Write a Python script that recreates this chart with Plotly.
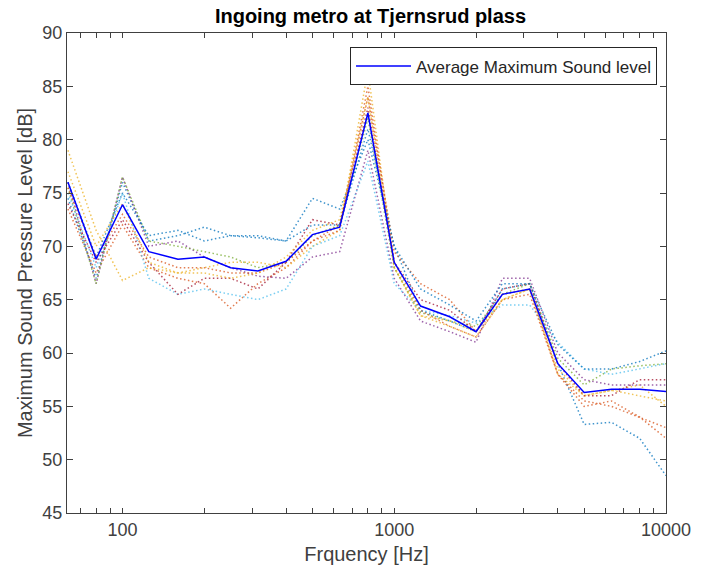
import plotly.graph_objects as go
import math

freqs = [63, 80, 100, 125, 160, 200, 250, 315, 400, 500, 630, 800, 1000,
         1250, 1600, 2000, 2500, 3150, 4000, 5000, 6300, 8000, 10000]

meas1 = [74.5, 67, 76, 70.5, 71, 71.8, 71, 71, 70.5, 74.5, 73.5, 80, 70, 64, 63, 62, 66, 66.5, 59, 53.3, 53.5, 52, 48.5]
meas2 = [73.5, 67.5, 72, 68, 67, 66.5, 64.2, 66.5, 68, 70.5, 72, 84, 69.5, 66.5, 65, 62, 65.5, 66, 58, 55.5, 55, 54, 53]
meas3 = [79, 71.5, 66.8, 68, 67.5, 68, 68.5, 68.5, 68, 70, 71.5, 86.5, 68, 63.5, 62.5, 61.5, 65, 66, 58.5, 56, 56.5, 57, 55]
meas4 = [76, 66.5, 76.5, 70, 70.5, 69, 68, 67.2, 67, 69, 69.5, 79, 67, 63, 62, 61, 67, 67, 60, 57.5, 57, 57, 57]
meas5 = [75.5, 66.5, 76.5, 70.5, 70, 69.5, 69, 68, 68.5, 71, 72, 82, 68, 63.8, 63, 62.5, 65.5, 66.5, 59.5, 57, 58.5, 58.8, 59]
meas6 = [75, 68, 75, 67, 65.5, 66, 65.5, 65, 66, 70, 71, 78, 66.5, 64, 63.5, 62.8, 64.5, 64.5, 61, 58.5, 58, 58.5, 59]
meas7 = [74, 68.5, 72.5, 68.5, 65.5, 67, 67, 66, 68.5, 72.5, 72, 83, 68.5, 65, 64, 62, 66, 66.5, 59, 56, 56, 57.5, 57.5]
meas8 = [76, 69, 75, 71, 71.5, 70.5, 71, 70.8, 70.5, 72, 72, 81, 70, 66, 64.5, 63, 66.5, 66.5, 60.8, 58.5, 58.5, 59.2, 60.2]
meas9 = [75.5, 69, 73, 69, 68, 68, 67.5, 67.5, 68.5, 70.5, 71.5, 85, 68.5, 64, 62.5, 61.5, 65, 65.5, 58, 55, 55.5, 54, 52]
meas10 = [77, 70, 74, 68.5, 67.5, 67.5, 67, 67.5, 69, 71.5, 72.5, 84, 68, 63.5, 63, 62, 65, 66, 58, 56, 56.5, 56, 55.5]

average = [76.0, 68.8, 73.9, 69.5, 68.8, 69.0, 68.0, 67.7, 68.6, 71.1, 71.8, 82.5, 68.5,
           64.4, 63.4, 62.0, 65.5, 66.0, 59.0, 56.3, 56.6, 56.6, 56.4]

measurements = [meas1, meas2, meas3, meas4, meas5, meas6, meas7, meas8, meas9, meas10]
colors = ["#0072BD", "#D95319", "#EDB120", "#7E2F8E", "#77AC30", "#4DBEEE", "#A2142F"]

x_tick_vals = [70, 80, 90, 100, 200, 300, 400, 500, 600, 700, 800, 900, 1000,
               2000, 3000, 4000, 5000, 6000, 7000, 8000, 9000, 10000]
x_tick_labels = ["", "", "", "100", "", "", "", "", "", "", "", "", "1000",
                 "", "", "", "", "", "", "", "", "10000"]
y_ticks = [45, 50, 55, 60, 65, 70, 75, 80, 85, 90]

fig = go.Figure()
for i, m in enumerate(measurements):
    fig.add_trace(go.Scatter(x=freqs, y=m, mode="lines",
                             line=dict(color=colors[i % len(colors)], width=1.5, dash="1.5px,2.5px"),
                             opacity=0.75, showlegend=False, hoverinfo="skip"))
fig.add_trace(go.Scatter(x=freqs, y=average, mode="lines",
                         line=dict(color="#0000FF", width=1.5),
                         name="Average Maximum Sound level"))

axis_col = "#404040"
fig.update_layout(
    width=703, height=579,
    margin=dict(l=67, r=29, t=33, b=66),
    paper_bgcolor="white", plot_bgcolor="white",
    font=dict(family="Liberation Sans, Arial, sans-serif", color="#404040", size=18),
    title=dict(text="<b>Ingoing metro at Tjernsrud plass</b>", x=0.527, xanchor="center",
               y=0.973, yanchor="middle", font=dict(size=20, color="#000000")),
    legend=dict(x=0.985, y=0.97, xanchor="right", yanchor="top",
                bordercolor="#262626", borderwidth=1, bgcolor="white",
                itemwidth=55, tracegroupgap=0,
                font=dict(size=17, color="#262626")),
    showlegend=True,
)
fig.update_xaxes(type="log", range=[math.log10(62.5), 4],
                 tickmode="array", tickvals=x_tick_vals, ticktext=x_tick_labels,
                 ticks="inside", ticklen=5, tickwidth=1, tickcolor=axis_col,
                 showline=True, linecolor=axis_col, linewidth=1, mirror="ticks",
                 showgrid=False, zeroline=False,
                 tickfont=dict(size=18, color="#404040"),
                 title=dict(text="Frquency [Hz]", font=dict(size=20, color="#404040"), standoff=8))
fig.update_yaxes(range=[45, 90], tickvals=y_ticks,
                 ticks="inside", ticklen=6, tickwidth=1, tickcolor=axis_col,
                 showline=True, linecolor=axis_col, linewidth=1, mirror="ticks",
                 showgrid=False, zeroline=False,
                 tickfont=dict(size=18, color="#404040"),
                 title=dict(text="Maximum Sound Pressure Level [dB]", font=dict(size=20, color="#404040"), standoff=4))

fig.write_html("out.html")
